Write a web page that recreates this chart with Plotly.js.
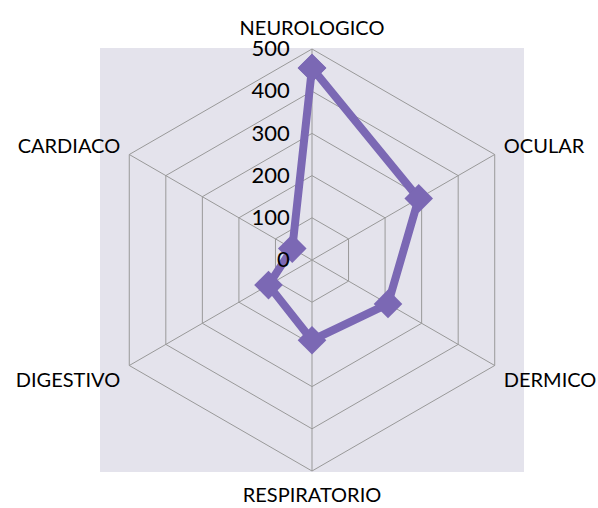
<!DOCTYPE html>
<html><head><meta charset="utf-8">
<script src="https://cdn.plot.ly/plotly-3.0.1.min.js"></script>
<style>html,body{margin:0;padding:0;background:#fff}#c{width:598px;height:508px}</style>
</head><body><div id="c"></div>
<script>
const categories = ["NEUROLOGICO","OCULAR","DERMICO","RESPIRATORIO","DIGESTIVO","CARDIACO"];
const values = [455, 292, 208, 190, 119, 54];
const tickVals = [0,100,200,300,400,500];
const tickText = ["0","100","200","300","400","500"];

const trace = {
  type: "scatterpolar",
  r: values.concat([values[0]]),
  theta: categories.concat([categories[0]]),
  mode: "lines+markers",
  line: {color: "#7B68B4", width: 8},
  marker: {symbol: "diamond", size: 22, color: "#7B68B4"},
  cliponaxis: false,
  hoverinfo: "none"
};
const layout = {
  width: 598, height: 508,
  margin: {l:0, r:0, t:0, b:0},
  paper_bgcolor: "#ffffff",
  showlegend: false,
  font: {family: "Lato, 'Open Sans', sans-serif", color: "#000"},
  shapes: [{type:"rect", xref:"paper", yref:"paper", x0:100/598, x1:524/598, y0:1-472/508, y1:1-48/508,
    fillcolor:"#E4E3EC", line:{width:0}, layer:"below"}],
  polar: {
    domain: {x:[101/598, 523/598], y:[(248-211)/508, (248+211)/508]},
    bgcolor: "rgba(0,0,0,0)",
    gridshape: "linear",
    angularaxis: {
      rotation: 90, direction: "clockwise",
      showline: true, linecolor: "#999", linewidth: 1,
      gridcolor: "#999", gridwidth: 1,
      ticks: "outside", ticklen: 6, tickcolor: "rgba(0,0,0,0)",
      tickfont: {size: 20, color: "#000"}
    },
    radialaxis: {
      range: [0, 500], tickvals: tickVals, ticktext: tickText,
      angle: 90, tickangle: 90, side: "counterclockwise",
      showline: false, ticks: "outside", ticklen: 14, tickcolor: "rgba(0,0,0,0)",
      gridcolor: "#999", gridwidth: 1,
      tickfont: {size: 22, color: "#000"}
    }
  }
};
Plotly.newPlot("c", [trace], layout, {displayModeBar: false, staticPlot: true});
</script></body></html>
